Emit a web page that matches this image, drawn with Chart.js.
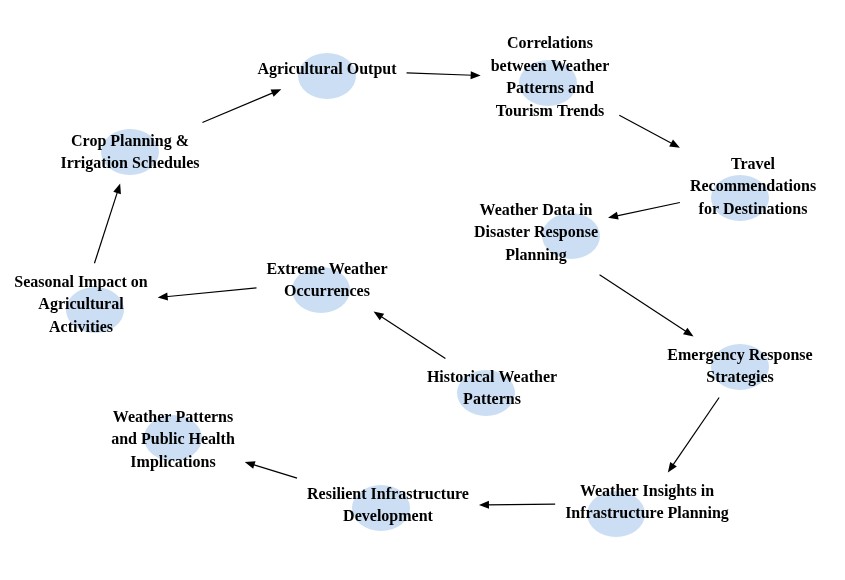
<!DOCTYPE html>
<html><head><meta charset="utf-8">
<script src="https://cdn.jsdelivr.net/npm/chart.js@4"></script>
<style>html,body{margin:0;padding:0;background:#fff}</style>
</head><body>
<canvas id="c" width="845" height="580"></canvas>
<script>
const labels = [
 ["Agricultural Output"],
 ["Correlations","between Weather","Patterns and","Tourism Trends"],
 ["Travel","Recommendations","for Destinations"],
 ["Weather Data in","Disaster Response","Planning"],
 ["Emergency Response","Strategies"],
 ["Weather Insights in","Infrastructure Planning"],
 ["Resilient Infrastructure","Development"],
 ["Weather Patterns","and Public Health","Implications"],
 ["Historical Weather","Patterns"],
 ["Extreme Weather","Occurrences"],
 ["Seasonal Impact on","Agricultural","Activities"],
 ["Crop Planning &","Irrigation Schedules"]
];
const textX = [327,550,753,536,740,647,388,173,492,327,81,130];
const textY = [70,78,187,233,367,503,506,440,389,281,305,153];
const nodeX = [327,548,740,571,740,616,381,173,486,321,95,130];
const nodeY = [76,83,198,236,367,514,508,438,393,290,310,152];
const edges = [[11,0],[0,1],[1,2],[2,3],[3,4],[4,5],[5,6],[6,7],[8,9],[9,10],[10,11]];

const FONT = 'bold 16px "Liberation Serif", "Times New Roman", serif';
const LH = 22.5;

function boxHit(cx,cy,hw,hh,dx,dy){
  const tx = dx!==0 ? hw/Math.abs(dx) : Infinity;
  const ty = dy!==0 ? hh/Math.abs(dy) : Infinity;
  return Math.min(tx,ty);
}

const diagram = {
  id:'diagram',
  afterDatasetsDraw(chart){
    const ctx = chart.ctx, xs = chart.scales.x, ys = chart.scales.y;
    ctx.save();
    // ellipses
    ctx.fillStyle = 'rgba(197,218,242,0.9)';
    nodeX.forEach((v,i)=>{
      ctx.beginPath();
      ctx.ellipse(xs.getPixelForValue(v), ys.getPixelForValue(nodeY[i]), 29, 23, 0, 0, Math.PI*2);
      ctx.fill();
    });
    ctx.font = FONT;
    const boxes = labels.map((ls,i)=>{
      const w = Math.max(...ls.map(l=>ctx.measureText(l).width));
      return {cx:xs.getPixelForValue(textX[i]), cy:ys.getPixelForValue(textY[i]), hw:w/2+10, hh:ls.length*LH/2+8};
    });
    // arrows
    ctx.strokeStyle='#000'; ctx.fillStyle='#000'; ctx.lineWidth=1.2;
    edges.forEach(([a,b])=>{
      const A=boxes[a], B=boxes[b];
      const dx=B.cx-A.cx, dy=B.cy-A.cy;
      const t0=boxHit(A.cx,A.cy,A.hw,A.hh,dx,dy);
      const t1=1-boxHit(B.cx,B.cy,B.hw,B.hh,dx,dy);
      const x0=A.cx+dx*t0, y0=A.cy+dy*t0, x1=A.cx+dx*t1, y1=A.cy+dy*t1;
      const ang=Math.atan2(y1-y0,x1-x0);
      ctx.beginPath(); ctx.moveTo(x0,y0);
      ctx.lineTo(x1-8*Math.cos(ang), y1-8*Math.sin(ang)); ctx.stroke();
      ctx.beginPath(); ctx.moveTo(x1,y1);
      ctx.lineTo(x1-10*Math.cos(ang)+4*Math.sin(ang), y1-10*Math.sin(ang)-4*Math.cos(ang));
      ctx.lineTo(x1-10*Math.cos(ang)-4*Math.sin(ang), y1-10*Math.sin(ang)+4*Math.cos(ang));
      ctx.closePath(); ctx.fill();
    });
    // text
    ctx.fillStyle='#000'; ctx.textAlign='center'; ctx.textBaseline='middle';
    labels.forEach((ls,i)=>{
      const b=boxes[i];
      ls.forEach((l,k)=>ctx.fillText(l, b.cx, b.cy+(k-(ls.length-1)/2)*LH));
    });
    ctx.restore();
  }
};

new Chart(document.getElementById('c'),{
  type:'scatter',
  data:{datasets:[{data:nodeX.map((v,i)=>({x:v,y:nodeY[i]})),pointRadius:0}]},
  options:{
    responsive:false, animation:false, devicePixelRatio:1,
    layout:{padding:0},
    plugins:{legend:{display:false},tooltip:{enabled:false}},
    scales:{
      x:{type:'linear',min:0,max:845,display:false},
      y:{type:'linear',min:0,max:580,reverse:true,display:false}
    }
  },
  plugins:[diagram]
});
</script>
</body></html>
